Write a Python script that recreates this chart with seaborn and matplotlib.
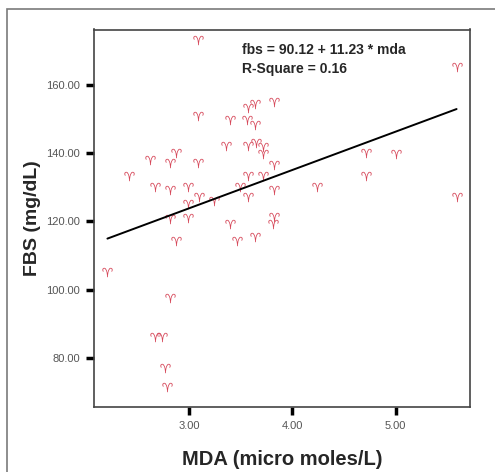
import numpy as np
import pandas as pd
import matplotlib
matplotlib.use("Agg")
import matplotlib.pyplot as plt
import seaborn as sns
from matplotlib.patches import Rectangle

# MDA vs FBS scatter with fitted line
mda = [3.09, 5.59, 3.82, 3.64, 3.57, 3.09, 3.40, 3.56, 3.64, 3.36,
       3.57, 3.65, 3.72, 3.72, 2.87, 2.62, 2.82, 3.09, 3.82, 4.71,
       5.00, 2.42, 3.57, 3.72, 4.71, 2.67, 2.99, 3.49, 2.82, 4.24,
       3.82, 3.10, 3.57, 3.24, 2.99, 5.59, 2.82, 2.99, 3.82, 3.81,
       3.40, 2.87, 3.46, 3.64, 2.21, 2.82, 2.67, 2.74, 2.77, 2.79]
fbs = [173.0, 165.2, 155.1, 154.4, 153.3, 151.0, 149.6, 149.6, 148.1, 142.0,
       142.0, 143.0, 141.8, 139.6, 140.1, 138.0, 137.1, 137.2, 136.6, 140.1,
       139.6, 133.2, 133.3, 133.3, 133.3, 130.0, 130.0, 130.2, 129.1, 130.0,
       129.1, 127.1, 127.1, 126.1, 125.2, 127.1, 120.8, 121.1, 121.3, 119.1,
       119.1, 114.2, 114.2, 115.4, 105.2, 97.6, 86.0, 86.0, 77.1, 71.5]

intercept = 90.12
slope = 11.23
r_square = 0.16

x_ticks = [3.0, 4.0, 5.0]
y_ticks = [80.0, 100.0, 120.0, 140.0, 160.0]

df = pd.DataFrame({"mda": mda, "fbs": fbs})

sns.set_style("white")
plt.rcParams["font.family"] = ["Liberation Sans", "DejaVu Sans"]

fig = plt.figure(figsize=(4.95, 4.72), dpi=100)
ax = fig.add_axes([94 / 495, 1 - 407 / 472, 376 / 495, 377.5 / 472])

# outer frame of the chart
fig.patches.append(Rectangle((7 / 495, -0.05), 1.2, 1 - 8.5 / 472 + 0.05,
                             transform=fig.transFigure, fill=False,
                             edgecolor="#7a7a7a", linewidth=1.2))

sns.scatterplot(data=df, x="mda", y="fbs", marker="$\u2648$", s=55,
                color="#d6485a", linewidth=0, ax=ax)

# fitted line over the data range
x_fit = np.array([min(mda), max(mda)])
fit_df = pd.DataFrame({"mda": x_fit, "fbs": intercept + slope * x_fit})
sns.lineplot(data=fit_df, x="mda", y="fbs", color="black", linewidth=1.4, ax=ax)

ax.set_xlim(2.08, 5.72)
ax.set_ylim(65.6, 176.2)
ax.set_xticks(x_ticks)
ax.set_yticks(y_ticks)
ax.set_xticklabels([f"{v:.2f}" for v in x_ticks])
ax.set_yticklabels([f"{v:.2f}" for v in y_ticks])
ax.tick_params(axis="both", direction="out", length=6, width=2.5,
               color="black", labelsize=8, labelcolor="#555555", pad=4,
               left=True, bottom=True)

for sp in ax.spines.values():
    sp.set_color("#444444")
    sp.set_linewidth(1.2)

ax.set_xlabel("MDA (micro moles/L)", fontsize=14.5, fontweight="bold", labelpad=14)
ax.set_ylabel("FBS (mg/dL)", fontsize=14, fontweight="bold", labelpad=4)

ax.text(0.393, 0.963, f"fbs = {intercept:.2f} + {slope:.2f} * mda",
        transform=ax.transAxes, fontsize=10, fontweight="bold", va="top")
ax.text(0.393, 0.915, f"R-Square = {r_square:.2f}",
        transform=ax.transAxes, fontsize=10, fontweight="bold", va="top")

fig.savefig("out.png", dpi=100)
